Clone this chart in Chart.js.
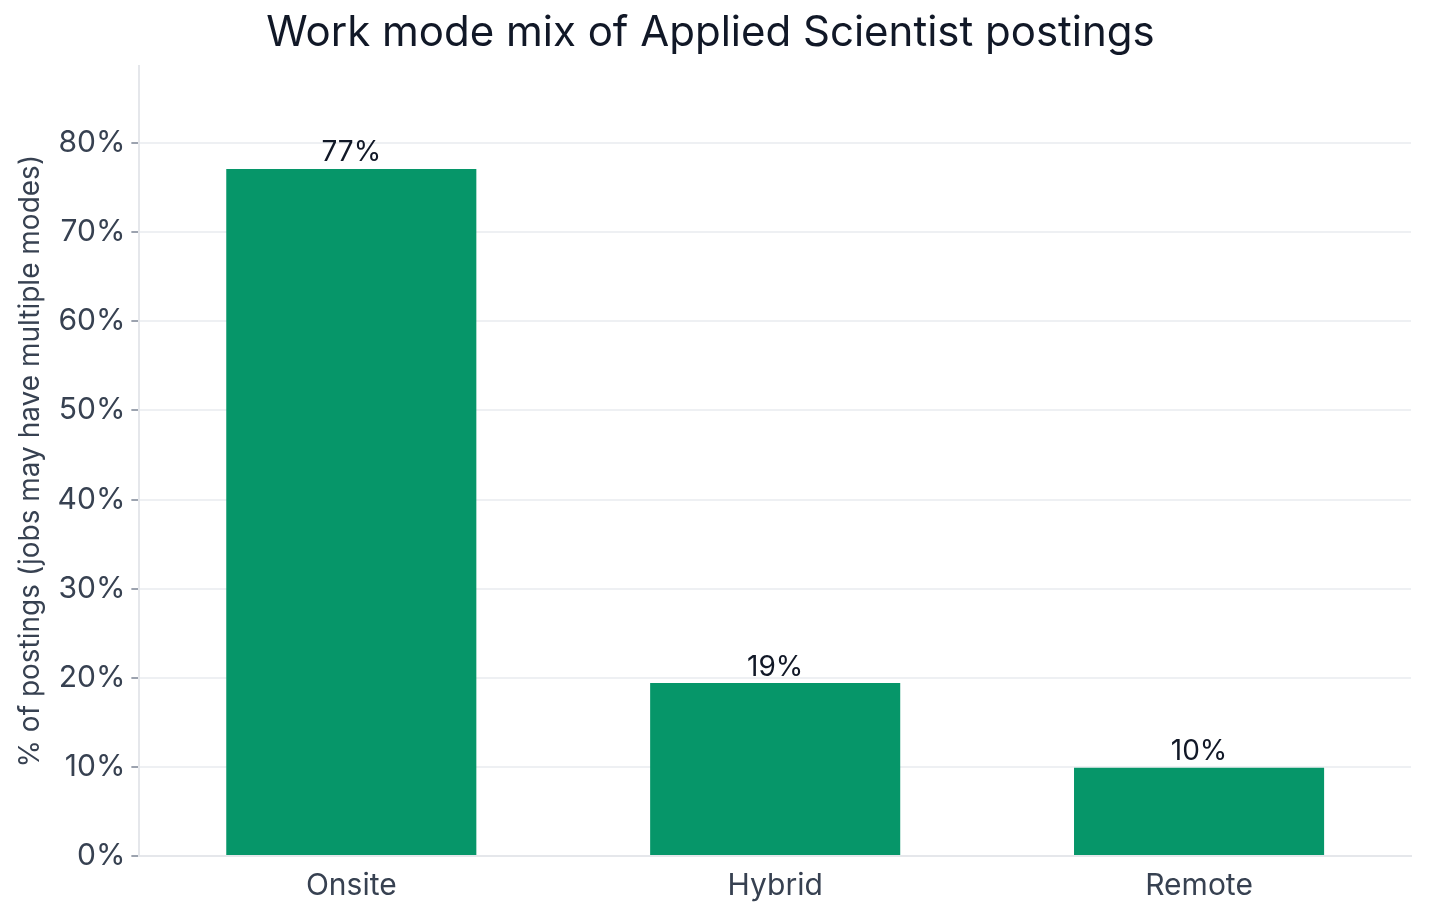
<!DOCTYPE html>
<html><head><meta charset="utf-8">
<script src="https://cdn.jsdelivr.net/npm/chart.js@4"></script>
<style>html,body{margin:0;padding:0;background:#fff}#w{width:1429px;height:918px}</style>
</head><body><div id="w"><canvas id="c"></canvas></div>
<script>
const categories = ["Onsite", "Hybrid", "Remote"];
const shares = [77.1, 19.4, 9.9];
const valueLabels = ["77%", "19%", "10%"];
const yTicks = [0,10,20,30,40,50,60,70,80];

const labelPlugin = {
  id: 'lbl',
  afterDatasetsDraw(chart) {
    const ctx = chart.ctx;
    const meta = chart.getDatasetMeta(0);
    ctx.save();
    ctx.font = '28px Inter, "Liberation Sans", sans-serif';
    ctx.fillStyle = '#111827';
    ctx.textAlign = 'center';
    ctx.textBaseline = 'bottom';
    meta.data.forEach((b, i) => ctx.fillText(valueLabels[i], b.x, b.y - 2));
    ctx.restore();
  }
};

new Chart(document.getElementById('c'), {
  type: 'bar',
  data: { labels: categories, datasets: [{ data: shares, backgroundColor: '#069669', barPercentage: 0.59, categoryPercentage: 1 }] },
  options: {
    responsive: true, maintainAspectRatio: false, animation: false,
    layout: { padding: { left: 10, right: 18, top: 8, bottom: 10 } },
    plugins: {
      legend: { display: false }, tooltip: { enabled: false },
      title: { display: true, text: 'Work mode mix of Applied Scientist postings', color: '#111827',
        font: { size: 42, family: 'Inter, "Liberation Sans", sans-serif', weight: 'normal' }, padding: { top: 0, bottom: 8 } }
    },
    scales: {
      x: {
        grid: { display: false, drawTicks: true, tickLength: 8 },
        border: { color: '#e5e7eb', width: 2 },
        ticks: { color: '#374151', font: { size: 30, family: 'Inter, "Liberation Sans", sans-serif' }, padding: 4 }
      },
      y: {
        min: 0, max: 88.6,
        afterBuildTicks: (s) => { s.ticks = yTicks.map(v => ({ value: v })); },
        grid: { color: '#eef0f3', lineWidth: 2, tickLength: 8, tickColor: '#9ca3af' },
        border: { color: '#e5e7eb', width: 2 },
        ticks: { color: '#374151', font: { size: 30, family: 'Inter, "Liberation Sans", sans-serif' }, callback: v => v + '%', padding: 6 },
        title: { display: true, text: '% of postings (jobs may have multiple modes)', color: '#374151',
          font: { size: 28, family: 'Inter, "Liberation Sans", sans-serif' }, padding: { bottom: 4 } }
      }
    }
  },
  plugins: [labelPlugin]
});
</script></body></html>
